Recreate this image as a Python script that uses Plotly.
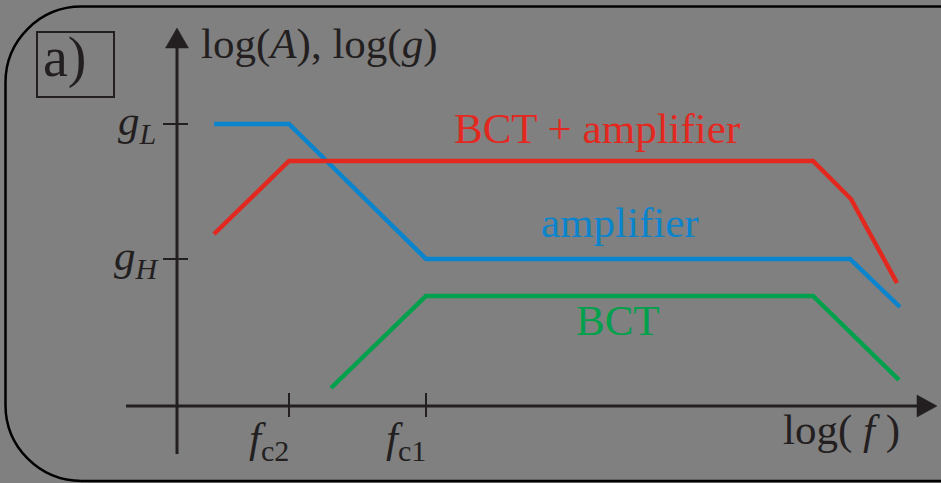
import plotly.graph_objects as go

# ---- data (arbitrary log units; origin where the axes cross) ----
x_blue = [0.37, 1.12, 2.49, 6.73, 7.23]
y_blue = [2.82, 2.82, 1.47, 1.47, 0.99]
x_red = [0.37, 1.12, 6.36, 6.74, 7.20]
y_red = [1.72, 2.45, 2.45, 2.07, 1.23]
x_green = [1.54, 2.49, 6.36, 7.22]
y_green = [0.18, 1.10, 1.10, 0.26]

x_tick_vals = [1.12, 2.49]
x_tick_text = ["<i>f</i><sub>c2</sub>", "<i>f</i><sub>c1</sub>"]
y_tick_vals = [2.82, 1.47]
y_tick_text = ["<i>g</i><sub><i>L</i></sub>", "<i>g</i><sub><i>H</i></sub>"]

RED = "#e2281f"
BLUE = "#0a84cc"
GREEN = "#00a04c"
INK = "#231f20"
BG = "#808080"
FONT = "Liberation Serif"
FS = 43

W, H = 941, 483
X0, X1 = -1.77, 7.64
Y0, Y1 = -0.77, 4.06

fig = go.Figure()
for xs, ys, c in [(x_green, y_green, GREEN), (x_blue, y_blue, BLUE), (x_red, y_red, RED)]:
    fig.add_trace(go.Scatter(x=xs, y=ys, mode="lines",
                             line=dict(color=c, width=4.5), hoverinfo="skip",
                             showlegend=False))

shapes = []
# axes
shapes.append(dict(type="line", xref="x", yref="y", x0=-0.51, x1=7.43, y0=0, y1=0,
                   line=dict(color=INK, width=3)))
shapes.append(dict(type="line", xref="x", yref="y", x0=0, x1=0, y0=-0.48, y1=3.62,
                   line=dict(color=INK, width=3)))
# arrowheads
shapes.append(dict(type="path", xref="x", yref="y",
                   path="M 7.60 0 L 7.40 0.11 L 7.40 -0.11 Z",
                   fillcolor=INK, line=dict(color=INK, width=0.5)))
shapes.append(dict(type="path", xref="x", yref="y",
                   path="M 0 3.78 L -0.115 3.58 L 0.115 3.58 Z",
                   fillcolor=INK, line=dict(color=INK, width=0.5)))
# ticks
for v in x_tick_vals:
    shapes.append(dict(type="line", xref="x", yref="y", x0=v, x1=v, y0=-0.11, y1=0.13,
                       line=dict(color=INK, width=2)))
for v in y_tick_vals:
    shapes.append(dict(type="line", xref="x", yref="y", x0=-0.14, x1=0.11, y0=v, y1=v,
                       line=dict(color=INK, width=2)))
# "a)" box
shapes.append(dict(type="rect", xref="x", yref="y", x0=-1.40, x1=-0.63, y0=3.09, y1=3.74,
                   line=dict(color=INK, width=2)))

# rounded frame (paper coords)
def px(x, y):
    return f"{x / W:.5f} {1 - y / H:.5f}"

r = 76
k = 0.5523 * r
L, T, B, R = 5.5, 6.5, 481, 960
frame = (f"M {px(R, T)} L {px(L + r, T)} "
         f"C {px(L + r - k, T)} {px(L, T + r - k)} {px(L, T + r)} "
         f"L {px(L, B - r)} "
         f"C {px(L, B - r + k)} {px(L + r - k, B)} {px(L + r, B)} "
         f"L {px(R, B)}")
shapes.append(dict(type="path", xref="paper", yref="paper", path=frame,
                   line=dict(color="#000000", width=2.5)))

ann = []
def text(x, y, s, color=INK, size=FS, xanchor="center"):
    ann.append(dict(x=x, y=y, xref="x", yref="y", text=s, showarrow=False,
                    xanchor=xanchor, yanchor="middle",
                    font=dict(family=FONT, size=size, color=color)))

text(4.20, 2.78, "BCT + amplifier", RED)
text(4.425, 1.84, "amplifier", BLUE)
text(4.41, 0.86, "BCT", GREEN)
text(1.42, 3.62, "log(<i>A</i>), log(<i>g</i>)")
text(6.64, -0.24, "log( <i>f</i> )")
for v, s in zip(x_tick_vals, x_tick_text):
    text(v - 0.20, -0.35, s)
for v, s in zip(y_tick_vals, y_tick_text):
    text(-0.40, v, s)
text(-1.12, 3.49, "a)", size=56)

fig.update_layout(
    width=W, height=H,
    margin=dict(l=0, r=0, t=0, b=0),
    paper_bgcolor=BG, plot_bgcolor=BG,
    xaxis=dict(range=[X0, X1], visible=False, fixedrange=True),
    yaxis=dict(range=[Y0, Y1], visible=False, fixedrange=True),
    shapes=shapes, annotations=ann,
)
fig.write_html("out.html", config={"staticPlot": True},
               post_script="document.body.style.margin='0';document.body.style.overflow='hidden';document.body.style.background='#808080';")
